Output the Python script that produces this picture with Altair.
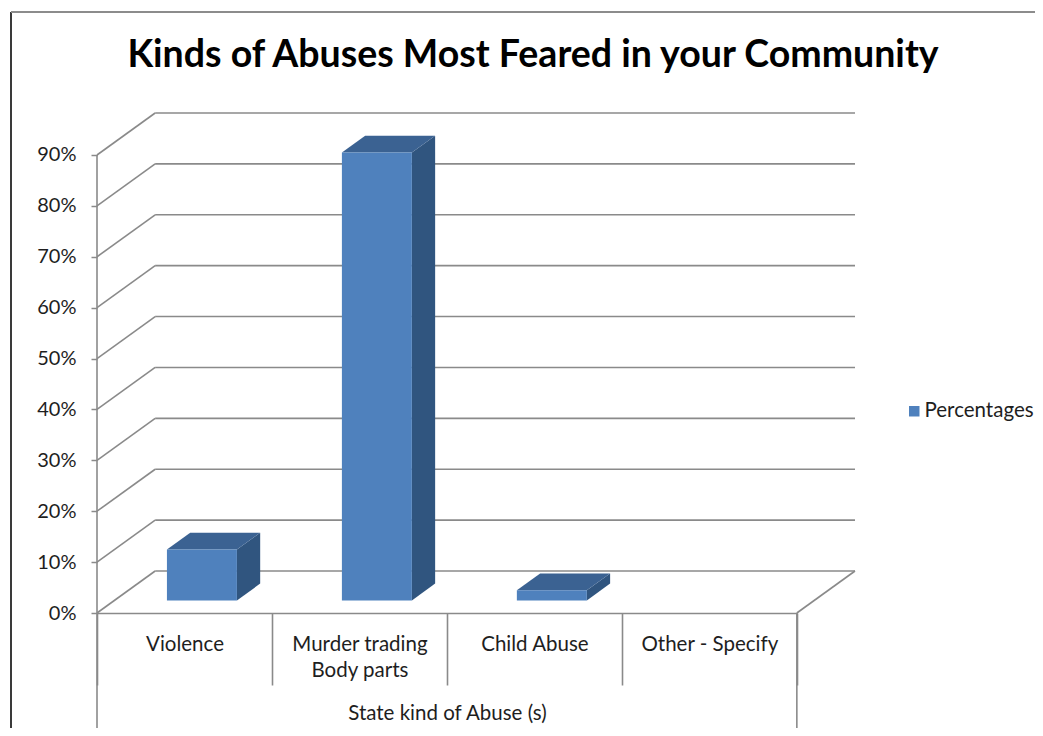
import altair as alt
import pandas as pd

# ---------------- data ----------------
categories = ["Violence", "Murder trading Body parts", "Child Abuse", "Other - Specify"]
values = [10, 88, 2, 0]
ticks = [0, 10, 20, 30, 40, 50, 60, 70, 80, 90]
series = "Percentages"
chart_title = "Kinds of Abuses Most Feared in your Community"
x_title = "State kind of Abuse (s)"

# ---------------- style / geometry ----------------
W, HPX = 758, 500
N = len(categories)
DX = 0.3324          # depth offset of the back wall, x units
DY = 8.25            # depth offset of the back wall, y units
BAR = 0.4            # bar width, fraction of a category
F0, F1 = 0.3, 0.7    # bar front / back depth fractions
XMAX = N + DX
YMAX = max(ticks) + DY
FRONT_W = W * N / XMAX

FRONT = "#4F81BD"
TOP = "#3B6292"
SIDE = "#30557F"
GRID = "#8A8A8A"
FONT = "Lato"
TXT = "#1E1E1E"
FS = 20.5

xs = alt.Scale(domain=[0, XMAX], nice=False, zero=False)
ys = alt.Scale(domain=[0, YMAX], nice=False, zero=False)
y_axis = alt.Axis(values=ticks, labelExpr="datum.value + '%'", domain=False, grid=False,
                  tickSize=6, tickColor=GRID, tickWidth=1.5, labelPadding=15,
                  labelFont=FONT, labelFontSize=20, labelColor=TXT, title=None)

# ---------------- derived tables ----------------
back_df = pd.DataFrame({"x": [DX] * len(ticks), "x2": [XMAX] * len(ticks),
                        "y": [t + DY for t in ticks]})
diag_df = pd.DataFrame({"x": [0.0] * len(ticks), "x2": [DX] * len(ticks),
                        "y": [float(t) for t in ticks], "y2": [t + DY for t in ticks]})
floor_df = pd.DataFrame({"x": [float(N)], "x2": [XMAX], "y": [0.0], "y2": [DY]})
front_axis_df = pd.DataFrame({"x": [0.0], "y": [0.0], "y2": [float(max(ticks))]})
box_df = pd.DataFrame({"x": [0.0, float(N)]})

front_rows, side_rows, top_rows = [], [], []
for i, (c, v) in enumerate(zip(categories, values)):
    if v <= 0:
        continue
    x0 = i + (1 - BAR) / 2
    front_rows.append({"cat": c, "series": series, "x": x0 + F0 * DX, "x2": x0 + BAR + F0 * DX,
                       "y": F0 * DY, "y2": F0 * DY + v})
    for f in (F0, F1):
        side_rows.append({"cat": c, "x": x0 + BAR + f * DX, "lo": f * DY, "hi": f * DY + v})
        top_rows.append({"cat": c, "y": f * DY + v, "xl": x0 + f * DX, "xr": x0 + BAR + f * DX})
front_df = pd.DataFrame(front_rows)
side_df = pd.DataFrame(side_rows)
top_df = pd.DataFrame(top_rows)
cat_df = pd.DataFrame({"cat": categories})

# ---------------- layers ----------------
back = alt.Chart(back_df).mark_rule(color=GRID, strokeWidth=1.6).encode(
    x=alt.X("x:Q", scale=xs, axis=None), x2="x2:Q",
    y=alt.Y("y:Q", scale=ys, axis=y_axis))
diag = alt.Chart(diag_df).mark_rule(color=GRID, strokeWidth=1.6).encode(
    x=alt.X("x:Q", scale=xs, axis=None), x2="x2:Q",
    y=alt.Y("y:Q", scale=ys, axis=y_axis), y2="y2:Q")
floor = alt.Chart(floor_df).mark_rule(color=GRID, strokeWidth=1.6).encode(
    x=alt.X("x:Q", scale=xs, axis=None), x2="x2:Q",
    y=alt.Y("y:Q", scale=ys, axis=y_axis), y2="y2:Q")
front_axis = alt.Chart(front_axis_df).mark_rule(color=GRID, strokeWidth=1.6).encode(
    x=alt.X("x:Q", scale=xs, axis=None),
    y=alt.Y("y:Q", scale=ys, axis=y_axis), y2="y2:Q")
box = alt.Chart(box_df).mark_rule(color=GRID, strokeWidth=1.6).encode(
    x=alt.X("x:Q", scale=xs, axis=None),
    y=alt.value(HPX), y2=alt.value(HPX + 115))

side = alt.Chart(side_df).mark_area(color=SIDE, interpolate="linear", orient="vertical").encode(
    x=alt.X("x:Q", scale=xs, axis=None),
    y=alt.Y("hi:Q", scale=ys, axis=y_axis), y2="lo:Q", detail="cat:N")
top = alt.Chart(top_df).mark_area(color=TOP, interpolate="linear", orient="horizontal").encode(
    y=alt.Y("y:Q", scale=ys, axis=y_axis),
    x=alt.X("xl:Q", scale=xs, axis=None), x2="xr:Q", detail="cat:N")
front = alt.Chart(front_df).mark_rect().encode(
    x=alt.X("x:Q", scale=xs, axis=None), x2="x2:Q",
    y=alt.Y("y:Q", scale=ys, axis=y_axis), y2="y2:Q",
    color=alt.Color("series:N", scale=alt.Scale(domain=[series], range=[FRONT]),
                    legend=alt.Legend(title=None, orient="none", legendX=807, legendY=288,
                                      symbolType="square", symbolSize=110, symbolStrokeWidth=0,
                                      labelFont=FONT, labelFontSize=FS, labelColor=TXT,
                                      labelOffset=0)))

# frame border of the chart area (decoration)
border_left = alt.Chart(cat_df).mark_rule(color="#3A3A3A", strokeWidth=2).encode(
    x=alt.value(-86), y=alt.value(-101), y2=alt.value(HPX + 130))
border_top = alt.Chart(cat_df).mark_rule(color="#8C8C8C", strokeWidth=2).encode(
    x=alt.value(-86), x2=alt.value(960), y=alt.value(-101))

inner = alt.layer(border_left, border_top, back, diag, floor, front_axis, box, side, top, front)

cat_layer = alt.Chart(cat_df).mark_point(opacity=0).encode(
    x=alt.X("cat:N", sort=categories,
            scale=alt.Scale(type="band", domain=categories, range=[0, FRONT_W],
                            paddingInner=0, paddingOuter=0),
            axis=alt.Axis(orient="bottom", title=x_title, tickBand="extent", tickSize=72,
                          tickColor=GRID, tickWidth=1.6, domainColor=GRID, domainWidth=1.6,
                          labelAngle=0, labelPadding=-51, labelOverlap=False,
                          labelFont=FONT, labelFontSize=FS, labelColor=TXT, labelLineHeight=26,
                          labelExpr="datum.label == 'Murder trading Body parts' ? ['Murder trading', 'Body parts'] : datum.label",
                          titleFont=FONT, titleFontSize=FS, titleFontWeight="normal",
                          titleColor=TXT, titlePadding=18)),
    y=alt.value(HPX))

chart = alt.layer(inner, cat_layer).resolve_scale(x="independent").properties(
    width=W, height=HPX,
    title=alt.TitleParams(text=chart_title, font=FONT, fontSize=37.5, fontWeight="bold",
                          color="black", anchor="middle", frame="group", dx=57,
                          offset=-93, baseline="alphabetic"),
    autosize=alt.AutoSizeParams(type="none"),
    padding={"left": 89, "top": 105, "right": 180, "bottom": 115},
).configure_view(stroke=None)

chart.save("out.html", embed_options={"renderer": "svg", "actions": False})
